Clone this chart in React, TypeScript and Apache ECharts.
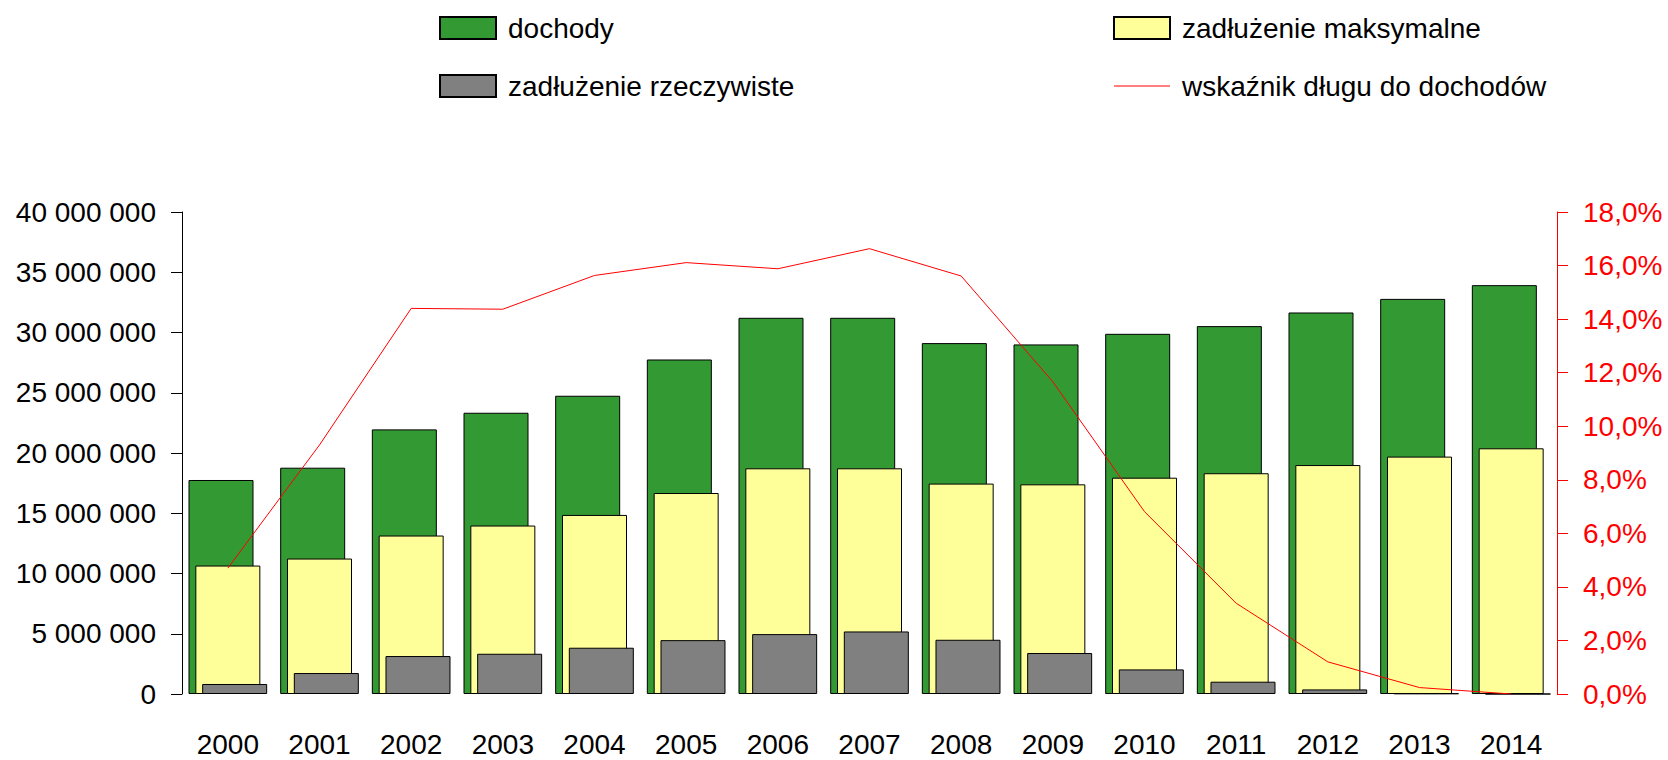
import React, { useEffect, useRef } from 'react';
import * as echarts from 'echarts';

const years = ['2000', '2001', '2002', '2003', '2004', '2005', '2006', '2007', '2008', '2009', '2010', '2011', '2012', '2013', '2014'];
const dochody = [17760000, 18780000, 21960000, 23340000, 24750000, 27760000, 31220000, 31220000, 29120000, 29010000, 29890000, 30530000, 31660000, 32790000, 33930000];
const zadluzenieMaksymalne = [10660000, 11240000, 13150000, 13980000, 14860000, 16680000, 18730000, 18730000, 17460000, 17400000, 17950000, 18320000, 19000000, 19700000, 20390000];
const zadluzenieRzeczywiste = [830000, 1740000, 3150000, 3340000, 3840000, 4470000, 4970000, 5190000, 4500000, 3400000, 2040000, 1020000, 380000, 50000, 0];
const wskaznik = [4.7, 9.3, 14.4, 14.37, 15.63, 16.11, 15.88, 16.63, 15.61, 11.66, 6.81, 3.39, 1.2, 0.24, 0.0];

const leftTicks = { min: 0, max: 40000000, interval: 5000000 };
const rightTicks = { min: 0, max: 18, interval: 2 };

const FONT = "'Liberation Sans', Arial, sans-serif";

export default function App() {
  const ref = useRef<HTMLDivElement>(null);
  useEffect(() => {
    const chart = echarts.init(ref.current!, null, { renderer: 'svg' });
    const legendText = { fontFamily: FONT, fontSize: 28, color: '#000', lineHeight: 28, padding: [0, 0, 0, 7] };
    chart.setOption({
      animation: false,
      backgroundColor: '#fff',
      grid: { left: 182, right: 111, top: 212, bottom: 66, outerBoundsMode: 'none', containLabel: false },
      legend: [
        {
          left: 439, top: 14, orient: 'vertical', padding: 0, itemWidth: 56, itemHeight: 22, itemGap: 30,
          selectedMode: false, textStyle: legendText,
          data: [{ name: 'dochody', icon: 'rect' }, { name: 'zadłużenie rzeczywiste', icon: 'rect' }],
        },
        {
          left: 1113, top: 14, orient: 'vertical', padding: 0, itemWidth: 56, itemHeight: 22, itemGap: 30,
          selectedMode: false, textStyle: legendText,
          data: [
            { name: 'zadłużenie maksymalne', icon: 'rect' },
            { name: 'wskaźnik długu do dochodów', icon: 'path://M0,0H56V1H0Z', itemStyle: { color: '#ff0000', borderWidth: 0 } },
          ],
        },
      ],
      xAxis: {
        type: 'category',
        data: years,
        axisLine: { show: false },
        axisTick: { show: false },
        axisLabel: { color: '#000', fontFamily: FONT, fontSize: 28, margin: 36, interval: 0 },
      },
      yAxis: [
        {
          type: 'value',
          ...leftTicks,
          splitLine: { show: false },
          axisLine: { show: true, lineStyle: { color: '#000', width: 1 } },
          axisTick: { show: true, length: 11, lineStyle: { color: '#000' } },
          axisLabel: {
            color: '#000', fontFamily: FONT, fontSize: 28, margin: 26,
            formatter: (v: number) => String(v).replace(/\B(?=(\d{3})+(?!\d))/g, ' '),
          },
        },
        {
          type: 'value',
          ...rightTicks,
          position: 'right',
          splitLine: { show: false },
          axisLine: { show: true, lineStyle: { color: '#ff0000', width: 1 } },
          axisTick: { show: true, length: 11, lineStyle: { color: '#ff0000' } },
          axisLabel: {
            color: '#ff0000', fontFamily: FONT, fontSize: 28, margin: 26,
            formatter: (v: number) => v.toFixed(1).replace('.', ',') + '%',
          },
        },
      ],
      series: [
        {
          name: 'dochody', type: 'bar', data: dochody, barWidth: 65, barGap: '-89.5%',
          itemStyle: { color: '#339933', borderColor: '#000', borderWidth: 1 },
        },
        {
          name: 'zadłużenie maksymalne', type: 'bar', data: zadluzenieMaksymalne, barWidth: 65, barGap: '-89.5%',
          itemStyle: { color: '#ffff99', borderColor: '#000', borderWidth: 1 },
        },
        {
          name: 'zadłużenie rzeczywiste', type: 'bar', data: zadluzenieRzeczywiste, barWidth: 65, barGap: '-89.5%',
          itemStyle: { color: '#808080', borderColor: '#000', borderWidth: 1 },
        },
        {
          name: 'wskaźnik długu do dochodów', type: 'line', yAxisIndex: 1, data: wskaznik,
          symbol: 'none', z: 10,
          lineStyle: { color: '#ff0000', width: 1 }, itemStyle: { color: '#ff0000' },
        },
      ],
    });
    return () => chart.dispose();
  }, []);
  return <div ref={ref} style={{ position: 'fixed', left: 0, top: 0, width: 1668, height: 760, background: '#fff' }} />;
}
